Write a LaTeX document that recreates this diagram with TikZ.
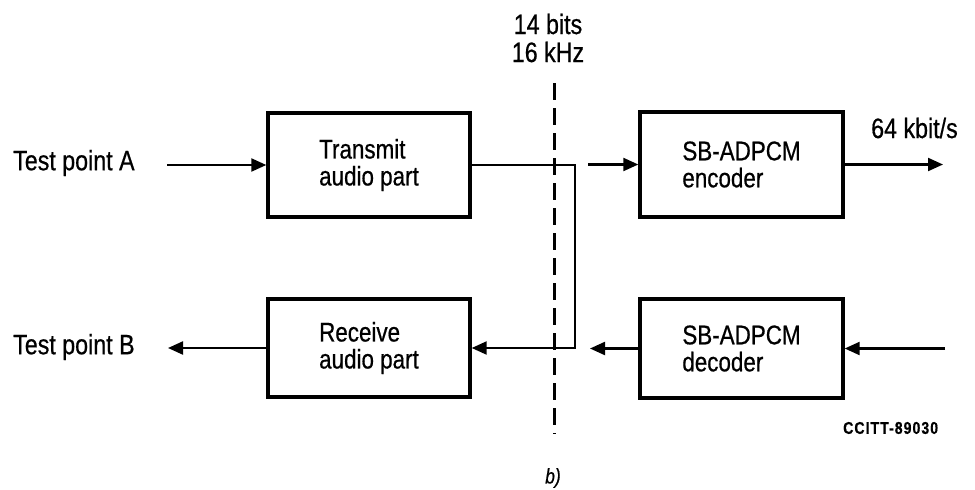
\documentclass[tikz,border=0pt]{standalone}
\usepackage{fontspec}
\setmainfont{Liberation Sans}[FakeStretch=0.83, FakeBold=0.6]
\usetikzlibrary{arrows.meta}
\tikzset{
  blk/.style={draw, line width=3.4pt, rectangle, minimum width=202pt, align=left, inner sep=0pt,
    font=\fontsize{27}{27}\selectfont},
  lbl/.style={inner sep=0pt, font=\fontsize{28}{28}\selectfont},
  conn/.style={line width=2.2pt, -{Triangle[length=15pt,width=13pt]}},
  divider/.style={line width=3pt, dash pattern=on 17pt off 8pt}
}
\begin{document}
\begin{tikzpicture}[x=1pt,y=-1pt]
\useasboundingbox (0,0) rectangle (975,490);
% blocks
\node[blk, minimum height=104pt] (tx) at (369,165) {Transmit\\audio part};
\node[blk, minimum height=98pt] (rx) at (369,348) {Receive\\audio part};
\node[blk, minimum width=203pt, minimum height=105pt] (enc) at (741.5,164.5) {SB-ADPCM\\encoder};
\node[blk, minimum width=203pt, minimum height=99pt] (dec) at (741.5,348.5) {SB-ADPCM\\decoder};
% labels
\node[lbl, anchor=west] (tpa) at (13,163) {Test point A};
\node[lbl, anchor=west] (tpb) at (13,347) {Test point B};
\node[lbl, anchor=west] (rate) at (871,128) {64 kbit/s};
\node[lbl, align=center] (hdr) at (548,38) {14 bits\\16 kHz};
\node[inner sep=0pt, anchor=west, font=\fontsize{17}{17}\bfseries\addfontfeature{LetterSpace=6}\selectfont] (ref) at (843,428) {CCITT-89030};
\node[inner sep=0pt, font=\fontsize{21}{21}\itshape\selectfont] (cap) at (553,478) {b)};
% coordinates
\coordinate (ain) at (167,165);
\coordinate (jn) at (575,250);
\coordinate (ei) at (588,164.5);
\coordinate (eo) at (943,164.5);
\coordinate (di) at (945,348.5);
\coordinate (dout) at (590,348.5);
\coordinate (bout) at (168,348);
\coordinate (d1) at (554,83);
\coordinate (d2) at (554,434);
% connectors
\draw[conn] (ain) -- (tx.west);
\draw[conn] (tx.east) -| (jn) |- (rx.east);
\draw[conn] (ei) -- (enc.west);
\draw[conn] (enc.east) -- (eo);
\draw[conn] (di) -- (dec.east);
\draw[conn] (dec.west) -- (dout);
\draw[conn] (rx.west) -- (bout);
\draw[divider] (d1) -- (d2);
\end{tikzpicture}
\end{document}
